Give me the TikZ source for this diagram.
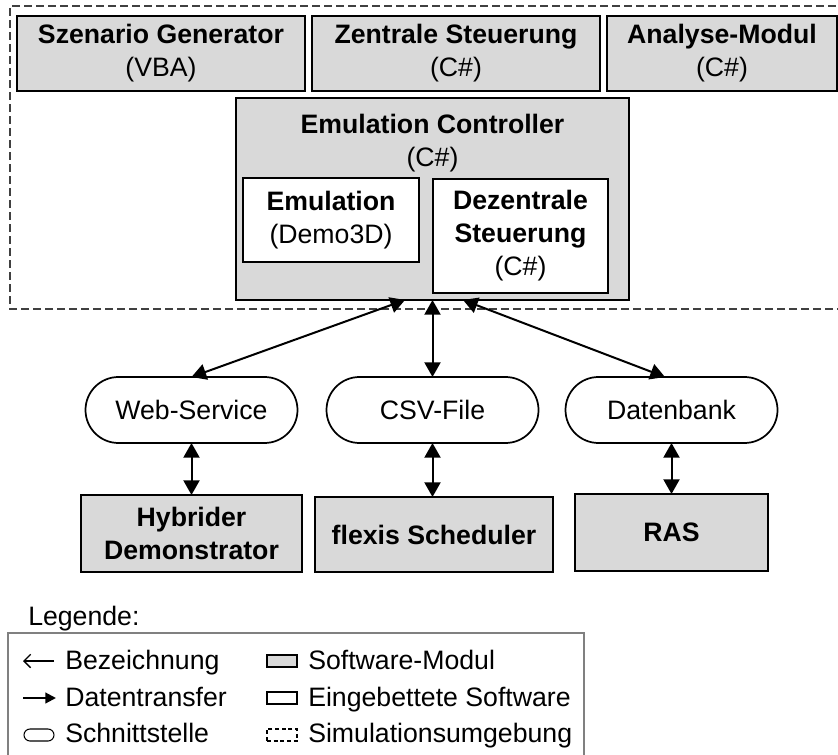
\documentclass[tikz,border=0pt]{standalone}
\usepackage{fontspec}
\setmainfont{Liberation Sans}
\usetikzlibrary{arrows.meta,shapes.misc}

\definecolor{modulgrau}{RGB}{217,217,217}
\definecolor{rahmengrau}{RGB}{64,64,64}
\definecolor{legendgrau}{RGB}{128,128,128}

\tikzset{
  modul/.style={draw, line width=1.5pt, fill=modulgrau, inner sep=0pt, outer sep=0pt, align=center},
  eingebettet/.style={draw, line width=1.5pt, fill=white, inner sep=0pt, outer sep=0pt, align=center},
  schnitt/.style={draw, line width=1.3pt, fill=white, rounded rectangle, inner sep=0pt, outer sep=0pt, minimum width=159pt, minimum height=49.5pt},
  transfer/.style={{Triangle[length=11pt,width=12pt]}-{Triangle[length=11pt,width=12pt]}, line width=1.5pt},
  legsym/.style={draw, line width=0.8pt, inner sep=0pt, outer sep=0pt, minimum width=22.5pt, minimum height=9pt},
  legtext/.style={anchor=base west, inner sep=0pt}
}

\begin{document}
\begin{tikzpicture}[x=0.75pt,y=0.75pt,yscale=-1,xscale=1, every node/.append style={font=\fontsize{20}{24.75}\selectfont}]
\useasboundingbox (0,0) rectangle (838,755);

%Shape: Simulationsumgebung
\draw [rahmengrau, line width=1.2pt, dash pattern=on 6pt off 3pt] (845,309) -- (10,309) -- (10,6) -- (845,6) ;

%Shape: Software-Module oben
\node [modul, minimum width=216pt, minimum height=56.25pt] (szenario) at (161,53.5) {\textbf{Szenario Generator}\\(VBA)};
\node [modul, minimum width=216pt, minimum height=56.25pt] (zentral) at (456,53.5) {\textbf{Zentrale Steuerung}\\(C\#)};
\node [modul, minimum width=172.5pt, minimum height=56.25pt] (analyse) at (722,53.5) {\textbf{Analyse-Modul}\\(C\#)};

%Shape: Emulation Controller
\node [modul, minimum width=294.75pt, minimum height=151.5pt] (ec) at (432.5,199) {};
\node [align=center, inner sep=0pt] (ectext) at (432.5,143.5) {\textbf{Emulation Controller}\\(C\#)};
\node [eingebettet, minimum width=132pt, minimum height=63pt] (emulation) at (331,220) {\textbf{Emulation}\\(Demo3D)};
\node [eingebettet, minimum width=131.25pt, minimum height=85.5pt] (dezentral) at (520.5,236) {\textbf{Dezentrale}\\\textbf{Steuerung}\\(C\#)};

%Shape: Schnittstellen
\node [schnitt] (webservice) at (191.5,410) {Web-Service};
\node [schnitt] (csvfile) at (432.5,410) {CSV-File};
\node [schnitt] (datenbank) at (671.5,410) {Datenbank};

%Shape: Software-Module unten
\node [modul, minimum width=165.75pt, minimum height=57.75pt] (hybrid) at (191.5,533.5) {\textbf{Hybrider}\\\textbf{Demonstrator}};
\node [modul, minimum width=178.5pt, minimum height=56.25pt] (flexis) at (434,534.5) {\textbf{flexis Scheduler}};
\node [modul, minimum width=144.75pt, minimum height=57.75pt] (ras) at (671.5,532.5) {\textbf{RAS}};

%Straight Lines: Datentransfer
\draw [transfer] (webservice.north) -- ([xshift=-20.6pt]ec.south) ;
\draw [transfer] (csvfile.north) -- (ec.south) ;
\draw [transfer] ([xshift=-4.9pt]datenbank.north) -- ([xshift=22.9pt]ec.south) ;
\draw [transfer] (webservice.south) -- (hybrid.north) ;
\draw [transfer] (csvfile.south) -- (csvfile.south |- flexis.north) ;
\draw [transfer] (datenbank.south) -- (ras.north) ;

% Legende
\node [legtext] (legende) at (28,625) {Legende:};
\draw [legendgrau, line width=0.8pt] (8,633) rectangle (584,770) ;

\coordinate (bezA) at (54,661);
\coordinate (bezB) at (23,661);
\draw [-{Straight Barb[length=5pt,width=10pt]}, line width=1pt] (bezA) -- (bezB) ;
\node [legtext] (bezeichnung) at (65,669) {Bezeichnung};

\coordinate (datA) at (23,698);
\coordinate (datB) at (56,698);
\draw [-{Triangle[length=8pt,width=8pt]}, line width=1.6pt] (datA) -- (datB) ;
\node [legtext] (datentransfer) at (65,706) {Datentransfer};

\node [legsym, rounded rectangle] (symschnitt) at (39,735) {};
\node [legtext] (schnittstelle) at (65,742) {Schnittstelle};

\node [legsym, fill=modulgrau] (symmodul) at (282,661) {};
\node [legtext] (softwaremodul) at (308,669) {Software-Modul};

\node [legsym, fill=white] (symeingebettet) at (282,698) {};
\node [legtext] (eingebettet) at (308,706) {Eingebettete Software};

\node [legsym, dash pattern=on 3pt off 2pt] (symsimulation) at (282,735) {};
\node [legtext] (simulation) at (308,742) {Simulationsumgebung};

\end{tikzpicture}
\end{document}
